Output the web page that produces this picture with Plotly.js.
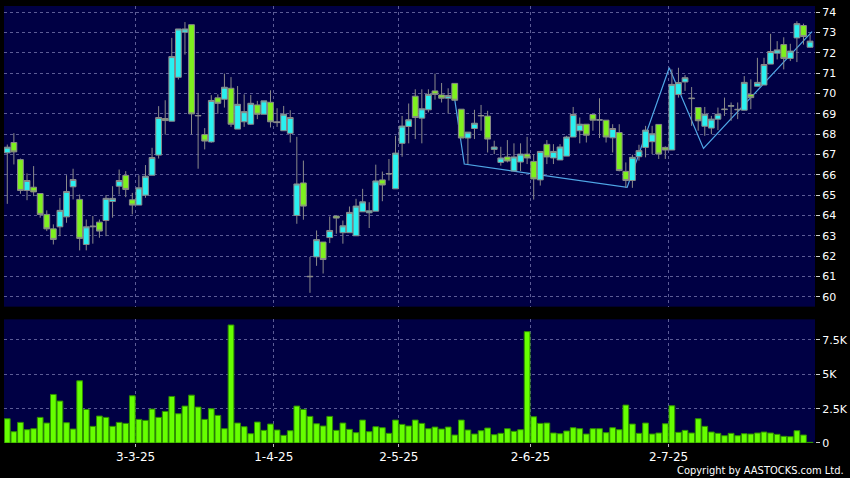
<!DOCTYPE html>
<html>
<head>
<meta charset="utf-8">
<script src="https://cdn.plot.ly/plotly-3.0.1.min.js"></script>
<style>
html,body{margin:0;padding:0;background:#000;}
#chart{width:850px;height:478px;}
</style>
</head>
<body>
<div id="chart"></div>
<script>
// Trading dates (category order)
var dates = [
'2025-02-03','2025-02-04','2025-02-05','2025-02-06','2025-02-07','2025-02-10','2025-02-11','2025-02-12','2025-02-13','2025-02-14',
'2025-02-17','2025-02-18','2025-02-19','2025-02-20','2025-02-21','2025-02-24','2025-02-25','2025-02-26','2025-02-27','2025-02-28',
'2025-03-03','2025-03-04','2025-03-05','2025-03-06','2025-03-07','2025-03-10','2025-03-11','2025-03-12','2025-03-13','2025-03-14',
'2025-03-17','2025-03-18','2025-03-19','2025-03-20','2025-03-21','2025-03-24','2025-03-25','2025-03-26','2025-03-27','2025-03-28',
'2025-03-31','2025-04-01','2025-04-02','2025-04-03','2025-04-07','2025-04-08','2025-04-09','2025-04-10','2025-04-11','2025-04-14',
'2025-04-15','2025-04-16','2025-04-17','2025-04-22','2025-04-23','2025-04-24','2025-04-25','2025-04-28','2025-04-29','2025-04-30',
'2025-05-02','2025-05-06','2025-05-07','2025-05-08','2025-05-09','2025-05-12','2025-05-13','2025-05-14','2025-05-15','2025-05-16',
'2025-05-19','2025-05-20','2025-05-21','2025-05-22','2025-05-23','2025-05-26','2025-05-27','2025-05-28','2025-05-29','2025-05-30',
'2025-06-02','2025-06-03','2025-06-04','2025-06-05','2025-06-06','2025-06-09','2025-06-10','2025-06-11','2025-06-12','2025-06-13',
'2025-06-16','2025-06-17','2025-06-18','2025-06-19','2025-06-20','2025-06-23','2025-06-24','2025-06-25','2025-06-26','2025-06-27',
'2025-06-30','2025-07-02','2025-07-03','2025-07-04','2025-07-07','2025-07-08','2025-07-09','2025-07-10','2025-07-11','2025-07-14',
'2025-07-15','2025-07-16','2025-07-17','2025-07-18','2025-07-21','2025-07-22','2025-07-23','2025-07-24','2025-07-25','2025-07-28',
'2025-07-29','2025-07-30','2025-07-31'
];

var open = [
67.08,67.59,66.75,65.23,65.39,65.08,64.05,63.34,63.44,63.93,
65.41,64.79,62.57,63.44,63.67,63.75,64.69,65.44,65.97,64.77,
64.51,65.00,65.98,66.97,68.77,68.64,70.80,73.02,73.39,68.90,
67.98,67.62,69.79,69.72,70.26,68.25,68.61,68.49,69.44,68.98,
69.57,68.57,68.17,68.04,64.00,65.60,60.98,61.96,62.69,62.91,
63.97,63.15,63.15,63.00,64.18,64.13,64.21,65.75,66.04,65.31,
67.55,68.38,69.87,68.79,69.20,70.13,69.93,69.77,70.50,69.23,
67.81,68.28,68.90,68.89,67.25,66.61,66.88,66.19,66.63,67.02,
66.66,65.75,67.50,66.83,66.73,66.92,67.86,68.17,68.49,68.97,
68.69,68.69,67.82,68.08,66.17,65.72,66.89,67.35,67.63,68.48,
67.35,67.22,69.95,70.57,69.75,69.31,68.39,68.30,68.74,69.21,
69.38,69.20,69.18,69.95,70.36,70.42,71.45,71.99,72.41,71.73,
72.74,73.35,72.28
];
var high = [
67.49,68.05,66.80,66.07,66.43,65.10,64.25,63.56,64.87,65.98,
66.30,65.03,63.80,63.97,63.80,65.00,65.44,66.26,66.18,65.11,
65.98,66.48,67.33,69.38,69.67,72.74,73.18,73.52,73.39,70.03,
68.30,69.92,69.96,70.98,70.81,70.37,69.96,69.93,69.64,69.64,
70.16,69.28,69.39,69.18,67.87,66.70,61.96,63.26,62.69,63.95,
63.97,63.75,64.44,64.82,65.31,64.65,66.50,66.16,66.78,67.92,
68.90,69.51,70.21,70.21,70.21,70.98,70.52,70.26,70.50,69.23,
68.10,69.20,69.44,69.15,67.68,67.38,67.71,67.55,67.55,67.87,
67.02,67.15,67.71,67.51,67.51,67.92,69.34,68.82,68.49,68.97,
69.77,68.69,68.49,68.49,66.61,66.99,67.48,68.41,68.41,68.48,
67.40,71.19,71.27,70.91,70.32,69.31,69.34,68.90,69.31,69.80,
69.56,69.56,70.86,70.70,71.76,71.76,72.94,72.58,72.77,72.45,
73.56,73.44,72.90
];
var low = [
64.57,66.51,65.07,64.75,64.95,63.89,63.23,62.57,62.98,63.64,
64.79,62.28,62.28,62.61,62.90,62.98,63.89,65.03,64.90,64.05,
64.51,64.87,65.98,66.80,67.98,68.64,70.69,71.92,67.98,66.30,
67.25,67.58,69.00,69.31,68.36,68.25,68.36,68.46,68.74,68.98,
68.33,68.36,68.17,67.59,63.59,63.79,60.19,61.52,61.14,62.64,
63.10,62.61,63.15,63.00,64.18,63.38,64.21,64.70,65.72,65.31,
66.89,67.55,67.76,67.55,69.07,69.70,69.56,69.02,69.67,67.81,
66.53,67.76,68.17,67.10,67.02,66.45,66.61,66.19,66.19,66.53,
64.78,65.47,66.53,66.53,66.73,66.92,67.86,67.55,67.59,68.17,
67.81,67.59,67.10,66.17,65.36,65.36,66.70,66.86,67.02,66.78,
66.78,67.22,69.80,70.13,68.41,68.17,67.92,68.00,68.20,68.90,
68.66,68.74,69.18,69.23,70.36,70.42,71.45,71.68,71.19,71.60,
71.55,72.41,72.25
];
var close = [
67.36,67.13,65.23,65.72,65.16,64.05,63.34,62.82,64.25,65.18,
65.77,62.87,63.44,63.47,63.23,64.84,64.84,65.72,65.28,64.51,
65.36,65.93,66.85,68.82,68.67,71.82,73.18,73.18,69.00,68.92,
67.66,69.66,69.52,70.31,68.49,69.47,69.11,69.52,68.98,69.64,
68.61,68.60,68.98,68.82,65.55,64.46,61.00,62.81,61.83,63.26,
63.87,63.49,64.15,64.46,64.67,64.23,65.70,65.50,66.06,67.07,
68.40,68.71,68.82,69.25,69.96,69.96,69.77,69.90,69.67,67.81,
68.10,68.54,68.92,67.76,67.37,66.83,66.68,66.88,67.02,66.83,
65.80,67.15,66.88,67.15,67.37,67.86,68.97,68.49,67.95,68.69,
68.71,67.86,68.28,66.21,65.72,66.86,67.19,68.20,68.02,67.02,
67.22,70.45,70.54,70.78,69.77,68.66,68.98,68.74,68.98,69.23,
69.40,69.22,70.55,69.80,70.55,71.43,72.07,72.15,71.73,72.09,
73.44,72.81,72.58
];
var volume = [
1766,823,1500,968,1040,1863,1452,3533,3049,1476,
1016,4525,2444,1210,1960,1863,1210,1500,1428,3436,
1718,1645,2468,1863,2299,3387,2129,2686,3484,2613,
1718,2492,2008,1040,8589,1452,1186,677,1524,919,
1379,944,556,895,2686,2444,1936,1403,1234,1936,
919,1452,992,750,1669,823,1186,1113,702,1669,
1355,1234,1669,1428,1040,1161,1016,1161,581,1669,
944,653,895,1089,605,702,1040,847,968,8105,
1911,1428,1452,726,677,871,1113,1040,653,1040,
1040,750,1113,968,2758,1379,702,1452,653,726,
1403,2710,774,919,726,1766,1210,798,702,532,
702,532,677,653,726,798,726,629,484,460,
895,581,48
];

// Trend (zig-zag) line vertices: position in trading-day index, price
var zigPos = [68, 69.45, 94.2, 100.6, 105.8, 122.3];
var zigPrice = [69.70, 66.53, 65.38, 71.27, 67.30, 73.05];

// Axis ticks
var tickDates = ['2025-03-03','2025-04-01','2025-05-02','2025-06-02','2025-07-02'];
var tickLabels = ['3-3-25','1-4-25','2-5-25','2-6-25','2-7-25'];
var priceTicks = [60,61,62,63,64,65,66,67,68,69,70,71,72,73,74];
var volTicks = [0,2500,5000,7500];
var volTickLabels = ['0','2.5K','5K','7.5K'];

var idx = dates.map(function(d,i){return i;});
var tickPos = tickDates.map(function(d){return dates.indexOf(d) - 0.5;});

var NAVY = '#000044';
var GRID = '#5c5c96';
var FONT = 'DejaVu Sans, Verdana, sans-serif';
var xr = [-0.5, 122.75];

var traces = [
  {
    type:'scatter', mode:'lines', x:zigPos, y:zigPrice,
    xaxis:'x', yaxis:'y',
    line:{color:'#4fa6e6', width:1.2}, hoverinfo:'skip', showlegend:false
  },
  {
    type:'candlestick', x:idx, open:open, high:high, low:low, close:close,
    xaxis:'x3', yaxis:'y3',
    increasing:{line:{color:'#8a8a8a', width:1}, fillcolor:'#2af0f0'},
    decreasing:{line:{color:'#8a8a8a', width:1}, fillcolor:'#7ef01e'},
    whiskerwidth:0, hoverinfo:'skip', showlegend:false
  },
  {
    type:'bar', x:idx, y:volume, xaxis:'x2', yaxis:'y2',
    marker:{color:'#66ff00', line:{color:'#2f8f00', width:1}},
    hoverinfo:'skip', showlegend:false
  }
];

var yPriceRange = [59.51, 74.31];
var layout = {
  width:850, height:478,
  paper_bgcolor:'#000000', plot_bgcolor:NAVY,
  margin:{l:4, r:35, t:6, b:35, pad:0},
  showlegend:false, hovermode:false,
  boxgap:0.12, boxgroupgap:0, bargap:0.13,
  font:{family:FONT, color:'#ffffff', size:11},
  xaxis:{
    domain:[0,1], range:xr, anchor:'y', showticklabels:false, ticks:'',
    showgrid:true, gridcolor:GRID, griddash:'3px,3px', gridwidth:1,
    tickmode:'array', tickvals:tickPos, zeroline:false, showline:false,
    rangeslider:{visible:false}, fixedrange:true
  },
  yaxis:{
    domain:[0.312,1], range:yPriceRange, side:'right', anchor:'x',
    tickmode:'array', tickvals:priceTicks, ticktext:priceTicks.map(String),
    ticks:'outside', ticklen:4, tickcolor:'#cfcfcf',
    showgrid:true, gridcolor:GRID, griddash:'3px,3px', gridwidth:1,
    zeroline:false, showline:false, tickfont:{size:11, color:'#ffffff', family:FONT},
    fixedrange:true
  },
  xaxis3:{
    overlaying:'x', range:xr, anchor:'y3', showticklabels:false, ticks:'',
    showgrid:false, zeroline:false, showline:false,
    rangeslider:{visible:false}, fixedrange:true
  },
  yaxis3:{
    overlaying:'y', range:yPriceRange, anchor:'x3', side:'right',
    showticklabels:false, ticks:'', showgrid:false, zeroline:false, showline:false,
    fixedrange:true
  },
  xaxis2:{
    domain:[0,1], range:xr, anchor:'y2',
    tickmode:'array', tickvals:tickPos, ticktext:tickLabels,
    ticks:'outside', ticklen:3, tickcolor:'#bbbbbb',
    showgrid:true, gridcolor:GRID, griddash:'3px,3px', gridwidth:1,
    zeroline:false, showline:false, tickfont:{size:12, color:'#ffffff', family:FONT},
    fixedrange:true
  },
  yaxis2:{
    domain:[0,0.283], range:[0,9000], side:'right', anchor:'x2',
    tickmode:'array', tickvals:volTicks, ticktext:volTickLabels,
    ticks:'outside', ticklen:4, tickcolor:'#cfcfcf',
    showgrid:true, gridcolor:GRID, griddash:'3px,3px', gridwidth:1,
    zeroline:false, showline:false, tickfont:{size:11, color:'#ffffff', family:FONT},
    fixedrange:true
  },
  annotations:[{
    text:'Copyright by AASTOCKS.com Ltd.', xref:'paper', yref:'paper',
    x:1.038, y:-0.064, xanchor:'right', yanchor:'middle', showarrow:false,
    font:{family:'DejaVu Sans Condensed, Liberation Sans, sans-serif', size:11, color:'#ffffff'}
  }]
};

Plotly.newPlot('chart', traces, layout, {displayModeBar:false, staticPlot:true});
</script>
</body>
</html>
